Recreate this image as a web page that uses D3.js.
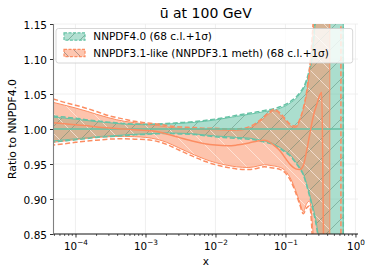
<!DOCTYPE html>
<html><head><meta charset="utf-8">
<script src="https://cdn.jsdelivr.net/npm/d3@7"></script>
<style>body{margin:0;background:#fff}svg{display:block}text{font-family:"DejaVu Sans",sans-serif;fill:#000}</style>
</head><body><svg id="c" width="374" height="275"></svg>
<script>
// ---------------- data ----------------
const xs = [4.8e-5, 7e-5, 1e-4, 1.5e-4, 2e-4, 3e-4, 5e-4, 7e-4, 1e-3, 1.5e-3,
  2e-3, 3e-3, 5e-3, 7e-3, 0.01, 0.015, 0.02, 0.03, 0.04, 0.05,
  0.06, 0.07, 0.085, 0.1, 0.12, 0.14, 0.16, 0.18, 0.2, 0.22,
  0.24, 0.26, 0.28, 0.3, 0.32, 0.33, 0.345, 0.36, 0.4, 0.43,
  0.5, 0.62, 0.67];

// NNPDF4.0
const tealCv = [1,1,1,1,1,1,1,1,1,1, 1,1,1,1,1,1,1,1,1,1, 1,1,1,1,1,1,1,1,1,1, 1,1,1,1,1,1,1,1,1,1, 1,1,1];
const teal68Hi = [1.0168, 1.0155, 1.014, 1.012, 1.0105, 1.009, 1.007, 1.0065, 1.006, 1.0065,
  1.007, 1.008, 1.0095, 1.011, 1.013, 1.016, 1.018, 1.021, 1.023, 1.025,
  1.026, 1.027, 1.03, 1.033, 1.038, 1.043, 1.05, 1.057, 1.068, 1.082,
  1.1, 1.14, 1.2, 1.3, 1.5, 1.5, 1.5, 1.5, 1.5, 1.5,
  1.5, 1.5, 1.5];
const teal68Lo = [0.983, 0.9845, 0.986, 0.9875, 0.989, 0.990, 0.9915, 0.9925, 0.993, 0.994,
  0.9945, 0.994, 0.993, 0.9915, 0.990, 0.989, 0.988, 0.987, 0.985, 0.983,
  0.981, 0.978, 0.973, 0.968, 0.962, 0.953, 0.945, 0.936, 0.922, 0.907,
  0.893, 0.879, 0.862, 0.84, 0.8, 0.5, 0.5, 0.5, 0.5, 0.5,
  0.5, 0.5, 0.5];
const teal1sHi = [1.0185, 1.017, 1.0155, 1.013, 1.0115, 1.0098, 1.0078, 1.0072, 1.0068, 1.0072,
  1.0078, 1.009, 1.0105, 1.0122, 1.0142, 1.0172, 1.0195, 1.0225, 1.0245, 1.0265,
  1.0277, 1.029, 1.032, 1.035, 1.04, 1.045, 1.052, 1.059, 1.07, 1.085,
  1.105, 1.15, 1.21, 1.3, 1.5, 1.5, 1.5, 1.5, 1.5, 1.5,
  1.5, 1.5, 1.5];
const teal1sLo = [0.9815, 0.983, 0.9845, 0.9865, 0.988, 0.9892, 0.9905, 0.9918, 0.9922, 0.9932,
  0.9935, 0.993, 0.992, 0.9905, 0.9888, 0.9875, 0.9865, 0.9855, 0.9835, 0.9815,
  0.9795, 0.9765, 0.9715, 0.9665, 0.9605, 0.9515, 0.9435, 0.9345, 0.92, 0.905,
  0.89, 0.875, 0.858, 0.835, 0.8, 0.5, 0.5, 0.5, 0.5, 0.5,
  0.5, 0.5, 0.5];

// NNPDF3.1-like
const orangeCv = [1.009, 1.0075, 1.006, 1.0045, 1.003, 1.0015, 1.0, 0.999, 0.998, 0.996,
  0.993, 0.988, 0.982, 0.979, 0.977, 0.976, 0.977, 0.980, 0.983, 0.984,
  0.981, 0.976, 0.968, 0.958, 0.948, 0.943, 0.942, 0.948, 0.968, 0.99,
  1.01, 1.025, 1.035, 1.045, 1.051, 1.052, 0.9, 0.7, 0.6, 0.6,
  null, null, null];
const orange68Hi = [1.038, 1.034, 1.030, 1.025, 1.021, 1.016, 1.011, 1.009, 1.007, 1.005,
  1.003, 1.001, 1.0, 0.999, 0.999, 0.998, 0.998, 1.001, 1.008, 1.016,
  1.023, 1.026, 1.02, 1.012, 1.004, 1.002, 1.012, 1.028, 1.05, 1.08,
  1.12, 1.17, 1.25, 1.5, 1.5, 1.5, 1.5, 1.5, 1.5, 1.5,
  null, null, null];
const orange68Lo = [0.981, 0.983, 0.985, 0.987, 0.988, 0.989, 0.9895, 0.989, 0.988, 0.985,
  0.981, 0.973, 0.963, 0.957, 0.952, 0.948, 0.946, 0.945, 0.947, 0.949,
  0.948, 0.947, 0.945, 0.940, 0.928, 0.912, 0.895, 0.882, 0.893, 0.897,
  0.87, 0.8, 0.5, 0.5, 0.5, 0.5, 0.5, 0.5, 0.5, 0.5,
  null, null, null];
const orange1sHi = [1.043, 1.038, 1.034, 1.029, 1.025, 1.019, 1.014, 1.011, 1.009, 1.007,
  1.005, 1.003, 1.002, 1.001, 1.001, 1.0, 1.0, 1.003, 1.01, 1.018,
  1.025, 1.028, 1.022, 1.014, 1.006, 1.004, 1.014, 1.03, 1.053, 1.085,
  1.13, 1.19, 1.3, 1.5, 1.5, 1.5, 1.5, 1.5, 1.5, 1.5,
  1.5, 1.5, null];
const orange1sLo = [0.977, 0.979, 0.981, 0.983, 0.984, 0.9855, 0.986, 0.9855, 0.985, 0.982,
  0.978, 0.97, 0.96, 0.954, 0.949, 0.945, 0.943, 0.942, 0.944, 0.946,
  0.945, 0.944, 0.942, 0.937, 0.925, 0.909, 0.892, 0.879, 0.887, 0.89,
  0.85, 0.7, 0.5, 0.5, 0.5, 0.5, 0.5, 0.5, 0.5, 0.5,
  0.5, 0.5, null];

const xDomain = [4.85e-5, 1.087];
const yDomain = [0.85, 1.15];
const yTicks = [0.85, 0.90, 0.95, 1.00, 1.05, 1.10, 1.15];
const xMajor = [1e-4, 1e-3, 1e-2, 1e-1, 1];
const xExp = ["\u22124", "\u22123", "\u22122", "\u22121", "0"];
const title = "\u016B at 100 GeV";
const yLabel = "Ratio to NNPDF4.0";
const xLabel = "x";
const legendLabels = ["NNPDF4.0 (68 c.l.+1\u03C3)", "NNPDF3.1-like (NNPDF3.1 meth) (68 c.l.+1\u03C3)"];

// ---------------- drawing ----------------
const TEAL = "#66c2a5", ORANGE = "#fc8d62";
const svg = d3.select("#c");
const m = {l: 53.5, r: 358, t: 24, b: 234};
const x = d3.scaleLog().domain(xDomain).range([m.l, m.r]);
const y = d3.scaleLinear().domain(yDomain).range([m.b, m.t]);

const defs = svg.append("defs");
defs.append("clipPath").attr("id", "clip").append("rect")
  .attr("x", m.l).attr("y", m.t).attr("width", m.r - m.l).attr("height", m.b - m.t);
function hatch(id, dir, color, w, s) {
  const p = defs.append("pattern").attr("id", id).attr("patternUnits", "userSpaceOnUse")
    .attr("width", s).attr("height", s);
  const d = dir === "/" ? `M${-s/2},${s/2} l${s},${-s} M0,${s} l${s},${-s} M${s/2},${1.5*s} l${s},${-s}`
                        : `M${-s/2},${s/2} l${s},${s} M0,0 l${s},${s} M${s/2},${-s/2} l${s},${s}`;
  p.append("path").attr("d", d).attr("stroke", color).attr("stroke-width", w).attr("fill", "none");
}
hatch("hT", "/", "rgba(70,120,100,0.5)", 0.8, 20);
hatch("hO", "\\", "rgba(255,240,232,0.75)", 0.9, 20);
hatch("hTl", "/", "rgba(70,120,100,0.6)", 0.8, 12);
hatch("hOl", "\\", "rgba(90,90,90,0.6)", 0.8, 12);

// grid
const grid = svg.append("g");
grid.selectAll("line.gx").data(xMajor).join("line")
  .attr("x1", d => x(d)).attr("x2", d => x(d)).attr("y1", m.t).attr("y2", m.b)
  .attr("stroke", "#ececec").attr("stroke-width", 0.8);
grid.selectAll("line.gy").data(yTicks).join("line")
  .attr("x1", m.l).attr("x2", m.r).attr("y1", d => y(d)).attr("y2", d => y(d))
  .attr("stroke", "#ececec").attr("stroke-width", 0.8);

const idx = d3.range(xs.length);
const plot = svg.append("g").attr("clip-path", "url(#clip)");
function area(lo, hi) {
  return d3.area().defined(i => lo[i] != null && hi[i] != null)
    .x(i => x(xs[i])).y0(i => y(lo[i])).y1(i => y(hi[i])).curve(d3.curveMonotoneX)(idx);
}
function line(v) {
  return d3.line().defined(i => v[i] != null).x(i => x(xs[i])).y(i => y(v[i])).curve(d3.curveMonotoneX)(idx);
}
// fills
plot.append("path").attr("d", area(teal68Lo, teal68Hi)).attr("fill", TEAL).attr("fill-opacity", 0.55);
plot.append("path").attr("d", area(orange68Lo, orange68Hi)).attr("fill", ORANGE).attr("fill-opacity", 0.52);
// hatches
plot.append("path").attr("d", area(teal68Lo, teal68Hi)).attr("fill", "url(#hT)");
plot.append("path").attr("d", area(orange68Lo, orange68Hi)).attr("fill", "url(#hO)");
// edges
plot.append("path").attr("d", area(teal68Lo, teal68Hi)).attr("fill", "none").attr("stroke", TEAL).attr("stroke-width", 1);
plot.append("path").attr("d", area(orange68Lo, orange68Hi)).attr("fill", "none").attr("stroke", ORANGE).attr("stroke-width", 1);
// 1 sigma dashed
plot.append("path").attr("d", area(teal1sLo, teal1sHi)).attr("fill", "none").attr("stroke", TEAL)
  .attr("stroke-width", 1.5).attr("stroke-dasharray", "5,2.5");
plot.append("path").attr("d", area(orange1sLo, orange1sHi)).attr("fill", "none").attr("stroke", ORANGE)
  .attr("stroke-width", 1.5).attr("stroke-dasharray", "5,2.5");
// central values
plot.append("path").attr("d", line(tealCv)).attr("fill", "none").attr("stroke", TEAL).attr("stroke-width", 1.5);
plot.append("path").attr("d", line(orangeCv)).attr("fill", "none").attr("stroke", ORANGE).attr("stroke-width", 1.5);

// axes
const xAxis = d3.axisBottom(x).tickValues(xMajor).tickSize(3.5).tickFormat("");
const gx = svg.append("g").attr("transform", `translate(0,${m.b})`).call(xAxis);
gx.select(".domain").remove();
gx.selectAll(".tick line").attr("stroke", "#000").attr("stroke-width", 0.8);
const xMinor = [];
for (let e = -5; e <= 0; e++) for (let k = 2; k <= 9; k++) {
  const v = k * Math.pow(10, e);
  if (v >= xDomain[0] && v <= xDomain[1]) xMinor.push(v);
}
gx.selectAll("line.minor").data(xMinor).join("line").attr("class", "minor")
  .attr("x1", d => x(d)).attr("x2", d => x(d)).attr("y1", 0).attr("y2", 2)
  .attr("stroke", "#000").attr("stroke-width", 0.6);
gx.selectAll(".tick").each(function(d, i) {
  const t = d3.select(this).append("text").attr("y", 15.5).attr("text-anchor", "middle")
    .attr("font-size", 10.3);
  t.append("tspan").text("10");
  t.append("tspan").attr("dy", -4.2).attr("font-size", 7.3).text(xExp[i]);
});
svg.append("line").attr("x1", m.l).attr("x2", m.r).attr("y1", m.b).attr("y2", m.b)
  .attr("stroke", "#000").attr("stroke-width", 0.9);

const yAxis = d3.axisLeft(y).tickValues(yTicks).tickSize(3.5).tickFormat(d3.format(".2f"));
const gy = svg.append("g").attr("transform", `translate(${m.l},0)`).call(yAxis);
gy.select(".domain").remove();
gy.selectAll(".tick line").attr("stroke", "#000").attr("stroke-width", 0.8);
gy.selectAll(".tick text").attr("font-size", 10.5).attr("x", -6.5).attr("dy", "0.38em")
  .attr("font-family", "DejaVu Sans").attr("fill", "#000");
svg.append("line").attr("x1", m.l).attr("x2", m.l).attr("y1", m.t).attr("y2", m.b)
  .attr("stroke", "#808080").attr("stroke-width", 1.1);

// labels
svg.append("text").attr("x", (m.l + m.r) / 2).attr("y", 17.5).attr("text-anchor", "middle")
  .attr("font-size", 14).text(title);
svg.append("text").attr("x", (m.l + m.r) / 2).attr("y", 265).attr("text-anchor", "middle")
  .attr("font-size", 10.5).text(xLabel);
svg.append("text").attr("transform", `translate(15.5,${(m.t + m.b) / 2}) rotate(-90)`)
  .attr("text-anchor", "middle").attr("font-size", 10.8).text(yLabel);

// legend
const lg = svg.append("g");
lg.append("rect").attr("x", 56).attr("y", 28.5).attr("width", 296.7).attr("height", 34.5)
  .attr("rx", 2.5).attr("fill", "rgba(255,255,255,0.8)").attr("stroke", "#cccccc").attr("stroke-width", 0.8);
const legCols = [TEAL, ORANGE], legH = ["url(#hTl)", "url(#hOl)"], legOp = [0.5, 0.5];
legendLabels.forEach((lab, i) => {
  const cy = 36.5 + i * 16.5;
  lg.append("rect").attr("x", 64).attr("y", cy - 3.7).attr("width", 21).attr("height", 7.4)
    .attr("fill", legCols[i]).attr("fill-opacity", legOp[i]);
  lg.append("rect").attr("x", 64).attr("y", cy - 3.7).attr("width", 21).attr("height", 7.4)
    .attr("fill", legH[i]);
  lg.append("rect").attr("x", 64).attr("y", cy - 3.7).attr("width", 21).attr("height", 7.4)
    .attr("fill", "none").attr("stroke", legCols[i]).attr("stroke-width", 1.2).attr("stroke-dasharray", "3,1.5");
  lg.append("text").attr("x", 93.3).attr("y", cy + 3.8).attr("font-size", 10.5).text(lab);
});
</script></body></html>
